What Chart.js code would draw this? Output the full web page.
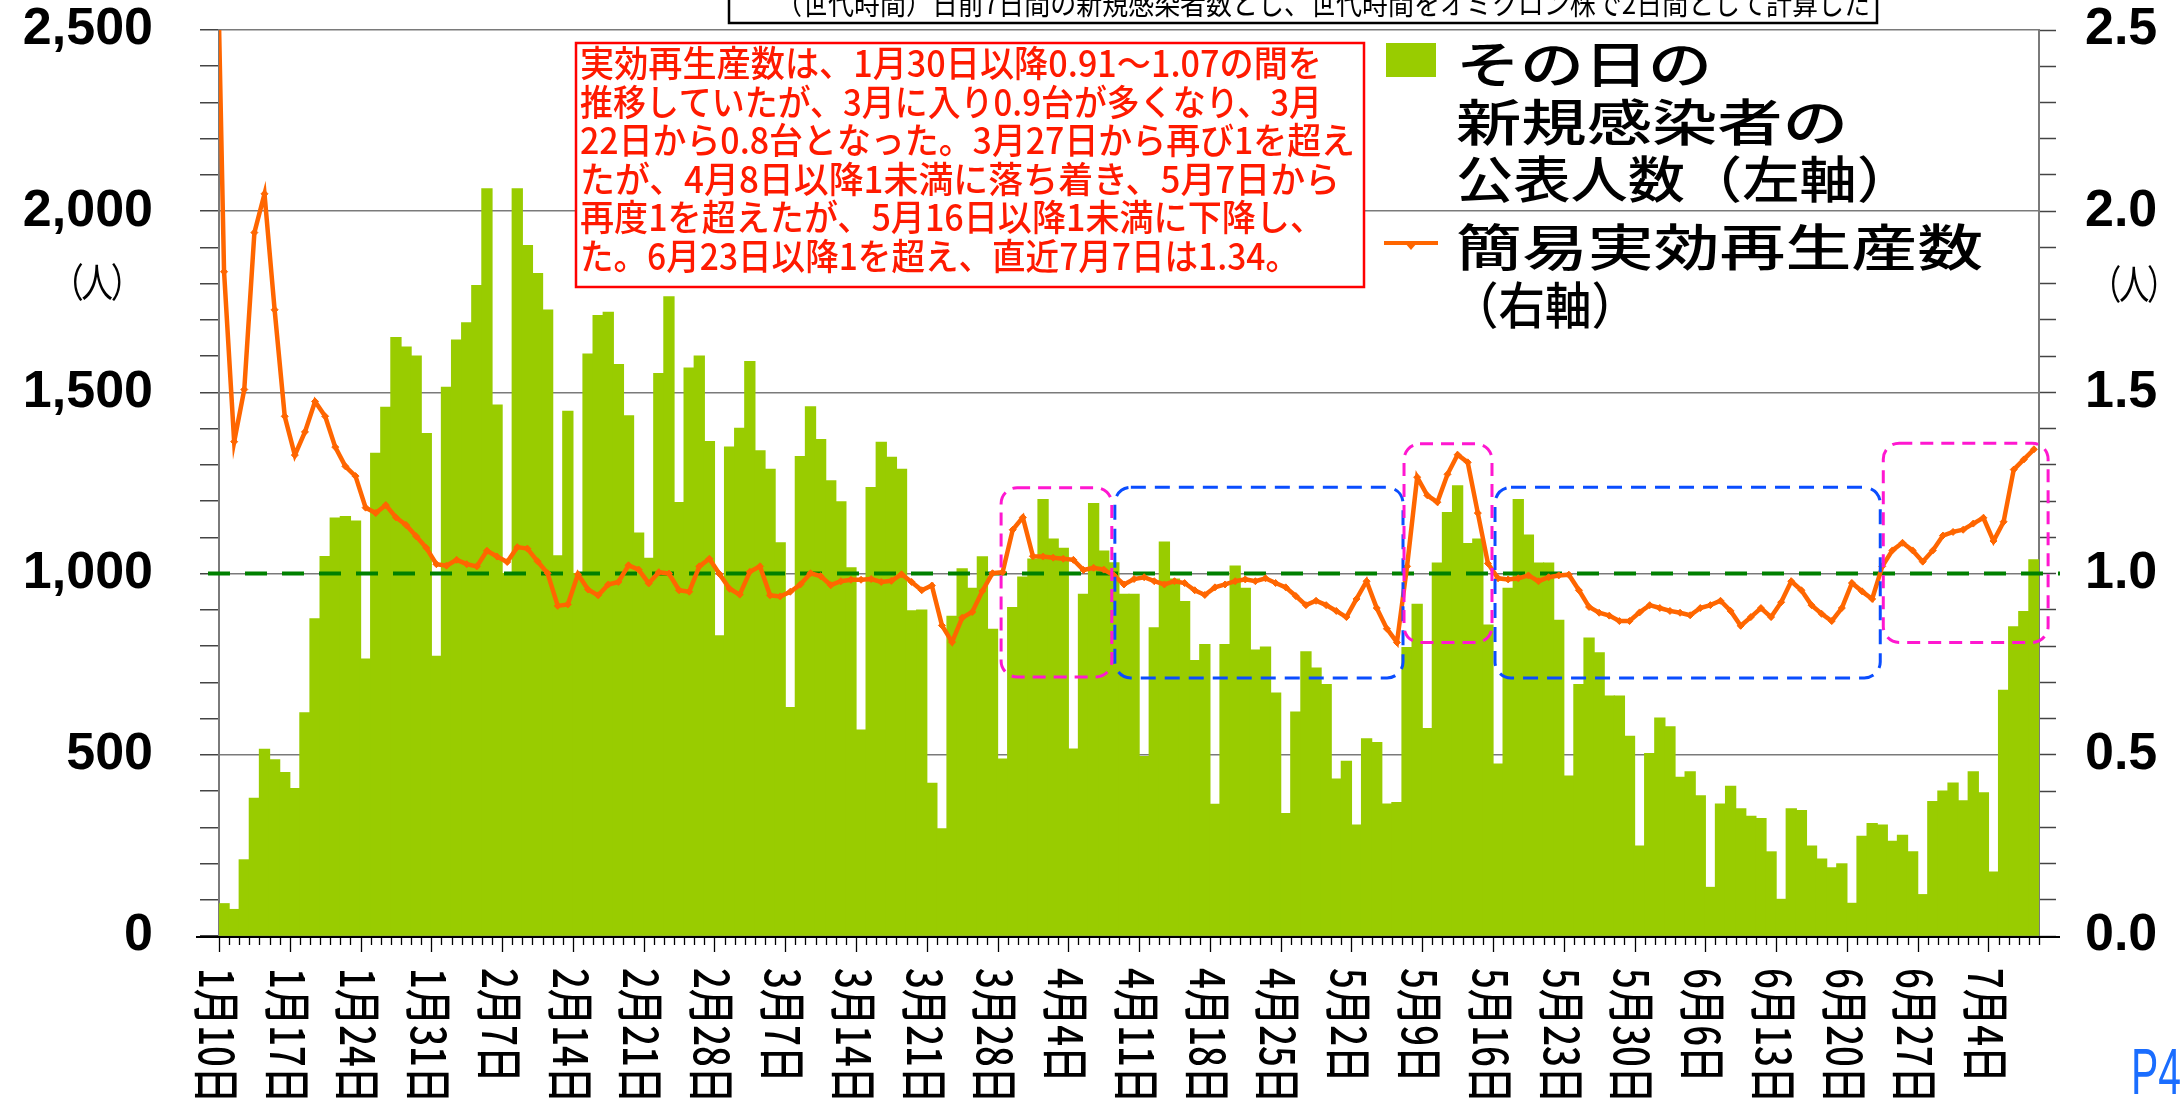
<!DOCTYPE html>
<html><head><meta charset="utf-8">
<script src="https://cdn.jsdelivr.net/npm/chart.js@4.4.0/dist/chart.umd.min.js"></script>
<style>html,body{margin:0;padding:0;background:#fff;overflow:hidden}#wrap{width:2184px;height:1107px;position:relative}</style>
</head><body><div id="wrap"><canvas id="c" width="2184" height="1107"></canvas></div>
<script>
// ---- categories: one per day, 1/9 (off-chart, only the R line reaches it) to 7/8
const monthLengths = {1:31,2:28,3:31,4:30,5:31,6:30,7:31};
const categories = [];
(function(){ let m=1,d=9; for(let i=0;i<181;i++){ categories.push(m+'月'+d+'日'); d++; if(d>monthLengths[m]){d=1;m++;} } })();

// ---- weekly tick labels on the date axis
const weekLabels = ['1月10日','1月17日','1月24日','1月31日','2月7日','2月14日','2月21日','2月28日','3月7日','3月14日','3月21日','3月28日','4月4日','4月11日','4月18日','4月25日','5月2日','5月9日','5月16日','5月23日','5月30日','6月6日','6月13日','6月20日','6月27日','7月4日'];

// ---- new cases per day (left axis), aligned with categories (1/9 has no bar)
const newCases = [null,
  89,73,210,380,515,486,451,407,616,875,
  1047,1153,1157,1145,764,1332,1459,1651,1625,1600,
  1386,772,1514,1644,1692,1795,2062,1465,1000,2062,
  1905,1828,1727,1049,1448,1000,1606,1712,1721,1577,
  1435,1112,1042,1552,1764,1196,1567,1600,1364,828,
  1349,1401,1585,1339,1288,1085,630,1323,1460,1370,
  1256,1198,1016,568,1237,1362,1321,1288,897,899,
  421,296,882,1013,959,1046,846,488,906,990,
  1040,1204,1095,1070,516,943,1193,1062,1030,943,
  943,495,850,1087,985,923,760,804,363,804,
  1021,959,789,797,670,338,618,784,739,694,
  433,482,306,544,534,364,368,796,915,572,
  1029,1168,1242,1083,1095,858,474,959,1204,1106,
  1029,1029,871,441,694,822,781,662,662,551,
  248,503,601,577,438,453,387,134,364,413,
  351,330,324,232,101,351,346,248,212,188,
  199,90,275,310,306,261,278,232,114,371,
  400,422,373,453,395,176,678,853,895,1038];

// ---- simple effective reproduction number (right axis), aligned with categories
const rt = [3.2,
  1.833,1.364,1.508,1.941,2.048,1.728,1.434,1.327,1.391,1.475,
  1.434,1.349,1.296,1.269,1.182,1.167,1.189,1.155,1.134,1.103,
  1.071,1.026,1.022,1.038,1.026,1.020,1.063,1.047,1.032,1.073,
  1.069,1.034,1.001,0.911,0.915,0.998,0.956,0.940,0.970,0.977,
  1.023,1.011,0.973,1.004,1.000,0.954,0.950,1.020,1.041,0.999,
  0.958,0.942,1.005,1.020,0.940,0.937,0.950,0.970,1.001,0.993,
  0.968,0.979,0.983,0.983,0.985,0.977,0.980,0.998,0.977,0.954,
  0.967,0.857,0.811,0.878,0.894,0.952,1.001,1.004,1.121,1.155,
  1.048,1.047,1.044,1.041,1.038,1.010,1.016,1.011,0.995,0.970,
  0.985,0.990,0.979,0.970,0.979,0.974,0.954,0.941,0.962,0.970,
  0.979,0.984,0.979,0.987,0.974,0.962,0.938,0.913,0.925,0.913,
  0.897,0.880,0.930,0.979,0.905,0.848,0.810,1.020,1.266,1.216,
  1.197,1.274,1.328,1.307,1.167,1.028,0.987,0.984,0.987,0.995,
  0.979,0.990,0.995,0.997,0.954,0.908,0.892,0.884,0.869,0.869,
  0.893,0.913,0.905,0.897,0.892,0.885,0.905,0.913,0.925,0.897,
  0.856,0.880,0.905,0.880,0.921,0.979,0.954,0.913,0.889,0.869,
  0.905,0.974,0.951,0.930,1.020,1.064,1.085,1.064,1.033,1.064,
  1.105,1.115,1.121,1.138,1.154,1.090,1.143,1.287,1.315,1.343];

// ---- highlighted periods: [from day-boundary (days after 1/10), to, R low, R high]
const magentaRanges = [[77.35,88.3,0.715,1.237],[117.2,125.9,0.81,1.358],[164.6,180.9,0.81,1.36]];
const blueRanges = [[88.6,117.1,0.712,1.238],[126.2,164.3,0.712,1.238]];

const legendTexts = {bar:['その日の','新規感染者の','公表人数（左軸）'], line:['簡易実効再生産数','（右軸）']};
const noteLines = ['実効再生産数は、1月30日以降0.91～1.07の間を','推移していたが、3月に入り0.9台が多くなり、3月','22日から0.8台となった。3月27日から再び1を超え','たが、4月8日以降1未満に落ち着き、5月7日から','再度1を超えたが、5月16日以降1未満に下降し、','た。6月23日以降1を超え、直近7月7日は1.34。'];
const topNote = '（世代時間）日前7日間の新規感染者数とし、世代時間をオミクロン株で2日間として計算した';
const unitText = '（人）';

const JP = '"Noto Sans CJK JP","Noto Sans CJK SC",sans-serif';
const NUM = '"Liberation Sans",Arial,sans-serif';
const BAR_COLOR = '#99cc00', LINE_COLOR = '#ff6600';

function fitText(ctx, text, x, y, font, targetW, align, spacing){
  ctx.save(); ctx.font = font;
  if (spacing !== undefined && 'letterSpacing' in ctx) ctx.letterSpacing = spacing + 'px';
  const w = ctx.measureText(text).width; const s = targetW ? targetW/w : 1;
  ctx.translate(x, y); ctx.scale(s, 1); ctx.textAlign = align || 'left'; ctx.fillText(text, 0, 0); ctx.restore();
}
function roundRect(ctx, x, y, w, h, r){
  ctx.beginPath(); ctx.moveTo(x+r,y); ctx.lineTo(x+w-r,y); ctx.arcTo(x+w,y,x+w,y+r,r);
  ctx.lineTo(x+w,y+h-r); ctx.arcTo(x+w,y+h,x+w-r,y+h,r); ctx.lineTo(x+r,y+h); ctx.arcTo(x,y+h,x,y+h-r,r);
  ctx.lineTo(x,y+r); ctx.arcTo(x,y,x+r,y,r); ctx.closePath();
}

const custom = {
  id:'custom',
  beforeDatasetDraw(chart, args){
    if (args.meta.type !== 'line') return;
    const {ctx, chartArea} = chart; const y = chart.scales.y1.getPixelForValue(1.0);
    ctx.save(); ctx.strokeStyle = '#008000'; ctx.lineWidth = 4; ctx.setLineDash([22,15]);
    ctx.beginPath(); ctx.moveTo(chartArea.left-11, y); ctx.lineTo(chartArea.right+21, y); ctx.stroke(); ctx.restore();
  },
  afterDatasetsDraw(chart){
    const {ctx} = chart; const xs = chart.scales.x, y1 = chart.scales.y1;
    const slot = xs.getPixelForValue(2) - xs.getPixelForValue(1);
    const x0 = xs.getPixelForValue(1) - slot/2;
    const drawBoxes = (ranges, color, dash) => {
      ctx.save(); ctx.strokeStyle = color; ctx.lineWidth = 3; ctx.setLineDash(dash);
      ranges.forEach(r => {
        const xa = x0 + r[0]*slot, xb = x0 + r[1]*slot, ya = y1.getPixelForValue(r[3]), yb = y1.getPixelForValue(r[2]);
        roundRect(ctx, xa, ya, xb-xa, yb-ya, 16); ctx.stroke();
      });
      ctx.restore();
    };
    drawBoxes(blueRanges, '#0a4dff', [15,9]);
    drawBoxes(magentaRanges, '#ff17d0', [13,8]);
  },
  afterDraw(chart){
    const {ctx, chartArea} = chart; const xs = chart.scales.x;
    const slot = xs.getPixelForValue(2) - xs.getPixelForValue(1);
    const x0 = xs.getPixelForValue(1) - slot/2;
    const base = chartArea.bottom;
    // date axis line and ticks
    ctx.save(); ctx.strokeStyle = '#000'; ctx.lineWidth = 2;
    ctx.beginPath(); ctx.moveTo(chartArea.left-23, base+1); ctx.lineTo(chartArea.right+21, base+1); ctx.stroke();
    ctx.lineWidth = 1.3;
    for (let b=0; b<=180; b++){
      const x = Math.round(x0 + b*slot) + 0.5; const major = b % 7 === 0;
      ctx.beginPath(); ctx.moveTo(x, base+1); ctx.lineTo(x, base + (major ? 16 : 9)); ctx.stroke();
    }
    ctx.restore();
    // rotated date labels (read top to bottom)
    ctx.save(); ctx.fillStyle = '#000'; ctx.font = '500 48px ' + JP; ctx.textBaseline = 'middle'; ctx.textAlign = 'left';
    weekLabels.forEach(lb => {
      const i = categories.indexOf(lb); const x = xs.getPixelForValue(i) - slot/2;
      ctx.save(); ctx.translate(x - 2, base + 32); ctx.rotate(Math.PI/2); ctx.scale(0.76, 1); ctx.fillText(lb, 0, 0); ctx.restore();
    });
    ctx.restore();

    // legend
    ctx.save(); ctx.fillStyle = BAR_COLOR; ctx.fillRect(1386, 43, 50, 34);
    ctx.strokeStyle = LINE_COLOR; ctx.lineWidth = 4; ctx.beginPath(); ctx.moveTo(1384, 243); ctx.lineTo(1438, 243); ctx.stroke();
    ctx.fillStyle = LINE_COLOR; ctx.beginPath(); ctx.moveTo(1405, 243); ctx.lineTo(1417, 243); ctx.lineTo(1411, 250); ctx.closePath(); ctx.fill();
    ctx.fillStyle = '#000'; ctx.textBaseline = 'middle';
    const lf = '500 50px ' + JP;
    fitText(ctx, legendTexts.bar[0], 1456, 64, lf, 256);
    fitText(ctx, legendTexts.bar[1], 1456, 122, lf, 392);
    fitText(ctx, legendTexts.bar[2], 1456, 179, lf, 458);
    fitText(ctx, legendTexts.line[0], 1456, 247, lf, 527);
    fitText(ctx, legendTexts.line[1], 1452, 305, lf, 186);
    ctx.restore();

    // red note box
    ctx.save(); ctx.fillStyle = '#fff'; ctx.fillRect(576, 43, 788, 244);
    ctx.strokeStyle = '#ff0000'; ctx.lineWidth = 2.5; ctx.strokeRect(576, 43, 788, 244);
    ctx.fillStyle = '#ff1a00'; ctx.textBaseline = 'alphabetic';
    const nw = [742, 742, 775, 760, 744, 719];
    noteLines.forEach((t, i) => fitText(ctx, t, 580, 77 + i*38.6, '500 36px ' + JP, nw[i]));
    ctx.restore();

    // top note box (partially cut off)
    ctx.save(); ctx.fillStyle = '#fff'; ctx.fillRect(729, -5, 1148, 28);
    ctx.strokeStyle = '#000'; ctx.lineWidth = 2.5; ctx.strokeRect(729, -5, 1148, 28);
    ctx.fillStyle = '#000'; ctx.textBaseline = 'alphabetic';
    fitText(ctx, topNote, 776, 14, '30px ' + JP, 1094);
    ctx.restore();

    // unit labels
    ctx.save(); ctx.fillStyle = '#000'; ctx.textBaseline = 'middle';
    fitText(ctx, unitText, 96, 282, '40px ' + JP, 88, 'center', -3);
    fitText(ctx, unitText, 2133, 284, '40px ' + JP, 84, 'center', -3);
    // page mark
    ctx.fillStyle = '#1a6dff'; ctx.textBaseline = 'alphabetic';
    fitText(ctx, 'P4', 2181, 1094, '64px ' + NUM, 50, 'right');
    ctx.restore();
  }
};

const isHalf = v => Math.abs(v*2 - Math.round(v*2)) < 1e-6;
const noVPad = s => { s.paddingTop = 0; s.paddingBottom = 0; };
new Chart(document.getElementById('c'), {
  data: {
    labels: categories,
    datasets: [
      { type:'line', label:'簡易実効再生産数（右軸）', data: rt, yAxisID:'y1', order:0,
        borderColor: LINE_COLOR, backgroundColor: LINE_COLOR, borderWidth: 4.5, tension: 0,
        pointStyle:'rectRot', pointRadius: 3.5, pointBorderWidth: 1, pointBackgroundColor: LINE_COLOR, pointBorderColor: LINE_COLOR },
      { type:'bar', label:'その日の新規感染者の公表人数（左軸）', data: newCases, yAxisID:'y', order:1,
        backgroundColor: BAR_COLOR, barPercentage: 1, categoryPercentage: 1, borderWidth: 0, inflateAmount: 0.6 }
    ]
  },
  options: {
    responsive: false, animation: false, devicePixelRatio: 1,
    layout: { padding: { top: 30, left: 0, right: 0, bottom: 0 } },
    plugins: { legend: { display: false }, tooltip: { enabled: false } },
    scales: {
      x: { type:'category', min: categories[1], offset: true,
           grid: { display: false }, border: { display: false }, ticks: { display: false },
           afterFit(s){ s.height = 171; } },
      y: { position:'left', min: 0, max: 2500,
           ticks: { stepSize: 100, autoSkip: false, color:'#000', padding: 47,
                    font: { family: NUM, size: 52, weight: 'bold', lineHeight: 1 },
                    callback: v => v % 500 === 0 ? v.toLocaleString('en-US') : '' },
           grid: { color: c => (c.tick && c.tick.value % 500 === 0) ? '#7a7a7a' : 'rgba(0,0,0,0)', lineWidth: 1.5,
                   tickLength: 19, tickColor: '#444', tickWidth: 1.5 },
           border: { color: '#7a7a7a', width: 2 },
           afterFit(s){ s.width = 219; noVPad(s); } },
      y1: { position:'right', min: 0, max: 2.5,
           ticks: { stepSize: 0.1, autoSkip: false, color:'#000', padding: 29,
                    font: { family: NUM, size: 52, weight: 'bold', lineHeight: 1 },
                    callback: v => isHalf(v) ? v.toFixed(1) : '' },
           grid: { drawOnChartArea: false, tickLength: 17, tickColor: '#444', tickWidth: 1.5 },
           border: { color: '#7a7a7a', width: 2 },
           afterFit(s){ s.width = 145; noVPad(s); } }
    }
  },
  plugins: [custom]
});
</script>
</body></html>
